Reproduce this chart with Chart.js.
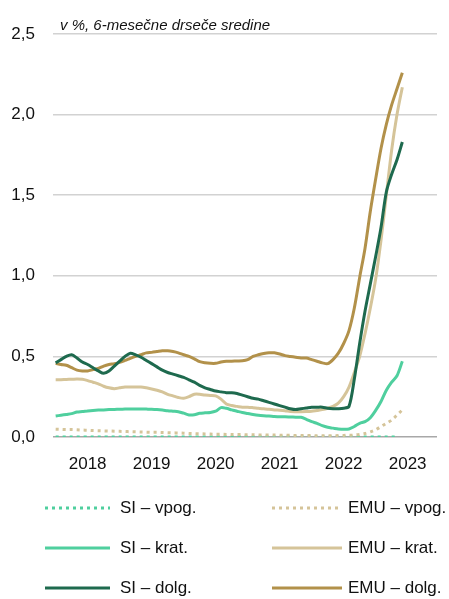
<!DOCTYPE html>
<html>
<head>
<meta charset="utf-8">
<script src="https://cdn.jsdelivr.net/npm/chart.js@4/dist/chart.umd.min.js"></script>
<style>
  html, body { margin: 0; padding: 0; background: #fff; }
  #wrap { width: 449px; height: 599px; }
</style>
</head>
<body>
<div id="wrap"><canvas id="chart" width="449" height="599"></canvas></div>
<script>
// data, monthly from Jan 2018
const years = ["2018", "2019", "2020", "2021", "2022", "2023"];
const unitNote = "v %, 6-mesečne drseče sredine";
const yTicks = [0, 0.5, 1.0, 1.5, 2.0, 2.5];

const siVpog = [0,0,0,0,0,0,0,0,0,0,0,0,0,0,0,0,0,0,0,0,0,0,0,0,0,0,0,0,0,0,0,0,0,0,0,0,0,0,0,0,
  0,0,0,0,0,0,0,0,0,0,0,0,0,0,0,0,0,0,0,0,0,0,0,0,0];
const siKrat = [0.13,0.135,0.14,0.145,0.155,0.158,0.162,0.165,0.167,0.168,0.17,0.171,0.172,0.173,0.174,0.174,0.174,0.173,0.172,0.17,
  0.167,0.163,0.16,0.157,0.148,0.137,0.138,0.147,0.15,0.152,0.16,0.182,0.178,0.168,0.16,0.152,0.146,0.14,0.135,0.132,
  0.13,0.127,0.125,0.125,0.124,0.123,0.122,0.11,0.095,0.085,0.07,0.06,0.055,0.05,0.048,0.05,0.065,0.085,0.095,0.12,
  0.165,0.22,0.29,0.34,0.38,0.47];
const siDolg = [0.46,0.48,0.50,0.51,0.49,0.465,0.45,0.43,0.41,0.395,0.41,0.44,0.47,0.50,0.52,0.51,0.495,0.475,0.455,0.435,
  0.415,0.40,0.39,0.38,0.37,0.355,0.34,0.32,0.305,0.295,0.285,0.28,0.275,0.275,0.27,0.26,0.25,0.24,0.235,0.225,
  0.215,0.205,0.195,0.185,0.175,0.17,0.175,0.18,0.185,0.185,0.185,0.178,0.175,0.175,0.178,0.19,0.36,0.58,0.78,0.95,
  1.12,1.30,1.52,1.63,1.72,1.83];
const emuVpog = [0.048,0.047,0.046,0.046,0.045,0.043,0.042,0.040,0.039,0.038,0.037,0.036,0.035,0.034,0.033,0.032,0.031,0.030,0.029,0.029,
  0.028,0.027,0.026,0.025,0.024,0.022,0.021,0.020,0.019,0.018,0.017,0.017,0.016,0.016,0.015,0.015,0.014,0.014,0.013,0.013,
  0.012,0.012,0.011,0.011,0.010,0.010,0.010,0.009,0.009,0.008,0.008,0.008,0.008,0.009,0.010,0.011,0.012,0.016,0.022,0.032,
  0.045,0.065,0.085,0.105,0.136,0.168];
const emuKrat = [0.355,0.355,0.357,0.358,0.36,0.358,0.35,0.34,0.33,0.315,0.305,0.30,0.305,0.31,0.31,0.31,0.31,0.305,0.298,0.29,
  0.28,0.265,0.255,0.245,0.24,0.25,0.265,0.265,0.26,0.258,0.255,0.235,0.205,0.195,0.19,0.185,0.185,0.182,0.178,0.175,
  0.172,0.168,0.166,0.163,0.158,0.157,0.157,0.158,0.16,0.165,0.17,0.178,0.19,0.21,0.25,0.31,0.40,0.50,0.64,0.80,
  0.98,1.22,1.50,1.78,2.00,2.17];
const emuDolg = [0.457,0.45,0.445,0.43,0.415,0.41,0.41,0.418,0.425,0.44,0.45,0.455,0.463,0.475,0.488,0.50,0.51,0.522,0.525,0.53,
  0.535,0.535,0.53,0.522,0.51,0.50,0.485,0.467,0.46,0.457,0.457,0.465,0.47,0.47,0.472,0.473,0.48,0.50,0.51,0.518,
  0.523,0.522,0.515,0.505,0.50,0.495,0.49,0.49,0.48,0.47,0.46,0.455,0.48,0.52,0.58,0.66,0.80,0.99,1.17,1.40,
  1.60,1.79,1.94,2.06,2.16,2.26];

const mint = "#4fcf9e";
const darkGreen = "#1e6a4e";
const lightTan = "#d5c499";
const gold = "#b2914a";
const dots = [3, 4];

// month labels, year shown in the middle of each year
const months = [];
years.forEach(y => { for (let m = 1; m <= 12; m++) months.push(y + "-" + m); });

function line(label, data, color, dash, order) {
  return {
    label, data,
    borderColor: color,
    backgroundColor: color,
    borderWidth: 3,
    borderDash: dash || [],
    borderCapStyle: "butt",
    pointRadius: 0,
    tension: 0.3,
    fill: false,
    order
  };
}

// legend in two columns, drawn on the canvas
const legendRows = [[0, 3], [1, 4], [2, 5]];
const legendPlugin = {
  id: "gridLegend",
  afterDraw(chart) {
    const ctx = chart.ctx;
    const cols = [{ x0: 45, x1: 110, tx: 120 }, { x0: 272, x1: 342, tx: 348 }];
    ctx.save();
    ctx.font = "17px 'Liberation Sans', Arial, sans-serif";
    ctx.fillStyle = "#111";
    ctx.textBaseline = "middle";
    legendRows.forEach((row, r) => {
      const y = 508 + r * 40;
      row.forEach((di, c) => {
        const ds = chart.data.datasets[di];
        const col = cols[c];
        ctx.strokeStyle = ds.borderColor;
        ctx.lineWidth = 3;
        ctx.setLineDash(ds.borderDash);
        ctx.beginPath();
        ctx.moveTo(col.x0, y);
        ctx.lineTo(col.x1, y);
        ctx.stroke();
        ctx.setLineDash([]);
        ctx.fillText(ds.label, col.tx, y);
      });
    });
    // unit note above the plot
    ctx.font = "italic 15px 'Liberation Sans', Arial, sans-serif";
    ctx.textBaseline = "alphabetic";
    ctx.fillText(unitNote, chart.chartArea.left + 7, 30);
    ctx.restore();
  }
};

new Chart(document.getElementById("chart"), {
  type: "line",
  data: {
    labels: months,
    datasets: [
      line("SI – vpog.", siVpog, mint, dots, 6),
      line("SI – krat.", siKrat, mint, null, 4),
      line("SI – dolg.", siDolg, darkGreen, null, 1),
      line("EMU – vpog.", emuVpog, lightTan, dots, 5),
      line("EMU – krat.", emuKrat, lightTan, null, 3),
      line("EMU – dolg.", emuDolg, gold, null, 2)
    ]
  },
  options: {
    responsive: false,
    animation: false,
    layout: { padding: { left: 0, right: 12, top: 34, bottom: 0 } },
    plugins: {
      legend: { display: false },
      tooltip: { enabled: false }
    },
    scales: {
      x: {
        offset: true,
        grid: { display: false },
        border: { display: false },
        afterFit: s => { s.height = 162; },
        ticks: {
          autoSkip: false,
          maxRotation: 0,
          padding: 9,
          color: "#111",
          font: { family: "'Liberation Sans', Arial, sans-serif", size: 17 },
          callback: (v, i) => (i % 12 === 6 ? years[Math.floor(i / 12)] : "")
        }
      },
      y: {
        min: 0,
        max: 2.5,
        afterFit: s => { s.width = 53; },
        afterBuildTicks: s => { s.ticks = yTicks.map(v => ({ value: v })); },
        border: { display: false },
        grid: {
          drawTicks: false,
          lineWidth: 1.5,
          color: c => (c.tick.value === 0 ? "#a8a8a8" : "#d2d2d2")
        },
        ticks: {
          padding: 18,
          color: "#111",
          font: { family: "'Liberation Sans', Arial, sans-serif", size: 17 },
          callback: v => v.toFixed(1).replace(".", ",")
        }
      }
    }
  },
  plugins: [legendPlugin]
});
</script>
</body>
</html>
